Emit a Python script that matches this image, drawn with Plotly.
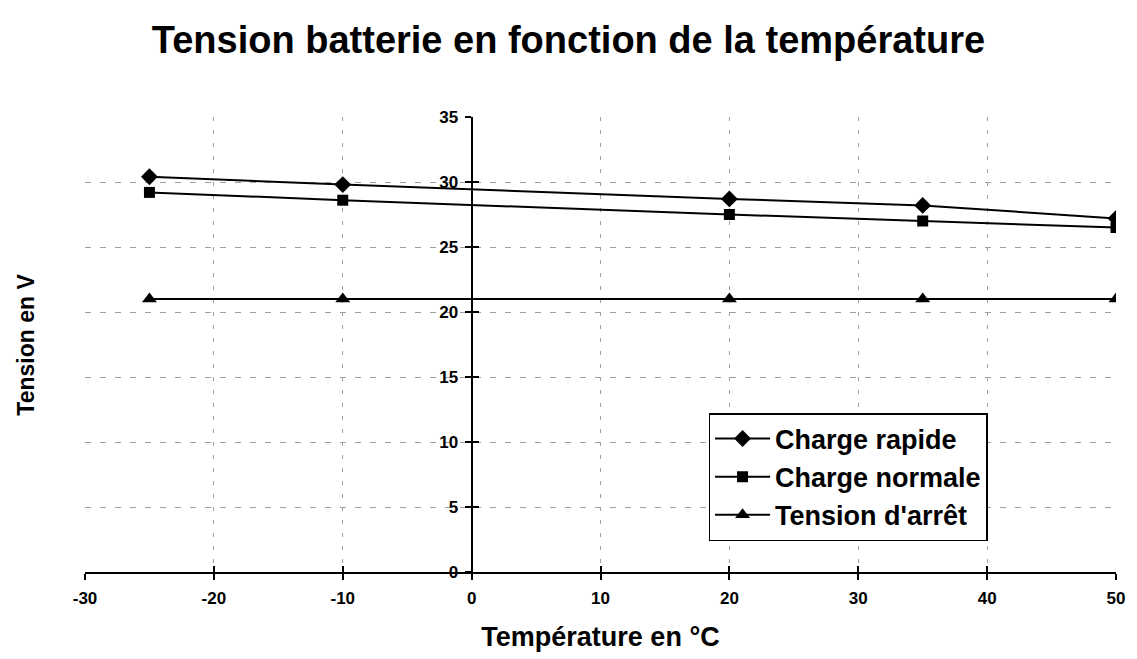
import plotly.graph_objects as go

# Battery voltage versus temperature
temperature = [-25, -10, 20, 35, 50]
charge_rapide = [30.4, 29.8, 28.7, 28.2, 27.2]
charge_normale = [29.2, 28.6, 27.5, 27.0, 26.5]
tension_arret = [21.0, 21.0, 21.0, 21.0, 21.0]

x_ticks = [-30, -20, -10, 0, 10, 20, 30, 40, 50]
y_ticks = [0, 5, 10, 15, 20, 25, 30, 35]
x_range = [-30, 50]
y_range = [0, 35]

FONT = "Liberation Sans, Arial, sans-serif"
GRID = "#a0a0a0"

series = [
    ("Charge rapide", charge_rapide, "diamond", 13),
    ("Charge normale", charge_normale, "square", 11),
    ("Tension d'arrêt", tension_arret, "triangle-up", 13),
]

fig = go.Figure()
for name, values, symbol, size in series:
    fig.add_trace(go.Scatter(
        x=temperature, y=values, name=name, mode="lines+markers",
        line=dict(color="black", width=2),
        marker=dict(symbol=symbol, size=size, color="black"),
    ))

# y axis placed where x = 0
y_pos = (0 - x_range[0]) / (x_range[1] - x_range[0])

fig.update_layout(
    width=1137, height=659,
    paper_bgcolor="white", plot_bgcolor="white",
    margin=dict(l=85, r=12, t=117, b=87),
    font=dict(family=FONT, color="black"),
    title=dict(text="<b>Tension batterie en fonction de la température</b>",
               x=0.5, xanchor="center", y=0.94, yanchor="middle",
               font=dict(size=38, family=FONT, color="black")),
    showlegend=True,
    legend=dict(x=(714 - 85) / 1040, y=(572 - 413) / 455, xanchor="left", yanchor="top",
                bgcolor="white", bordercolor="black", borderwidth=1.5,
                itemwidth=55,
                font=dict(size=27, family=FONT, color="black", weight="bold")),
    xaxis=dict(range=x_range, tickvals=x_ticks, ticktext=[str(v) for v in x_ticks],
               showgrid=True, gridcolor=GRID, griddash="4px,9px", gridwidth=1,
               zeroline=False, showline=True, linecolor="black", linewidth=2,
               ticks="outside", ticklen=6, tickcolor="black", tickwidth=1.5,
               ticklabelstandoff=4,
               tickfont=dict(size=17, family=FONT, color="black", weight="bold"),
               title=dict(text="<b>Température en °C</b>", standoff=20,
                          font=dict(size=27, family=FONT, color="black")),
               anchor="y"),
    xaxis2=dict(range=x_range, tickvals=x_ticks, overlaying="x", anchor="y",
                side="bottom", showticklabels=False, showgrid=False, zeroline=False,
                ticks="inside", ticklen=6, tickcolor="black", tickwidth=1.5),
    yaxis=dict(range=y_range, tickvals=y_ticks, ticktext=[str(v) for v in y_ticks],
               showgrid=True, gridcolor=GRID, griddash="6px,9px", gridwidth=1,
               zeroline=False, showline=True, linecolor="black", linewidth=2,
               anchor="free", position=y_pos,
               ticks="outside", ticklen=6, tickcolor="black", tickwidth=1.5,
               ticklabelstandoff=3,
               tickfont=dict(size=17, family=FONT, color="black", weight="bold")),
    yaxis2=dict(range=y_range, tickvals=y_ticks, overlaying="y", anchor="free",
                position=y_pos, showticklabels=False, showgrid=False, zeroline=False,
                ticks="inside", ticklen=6, tickcolor="black", tickwidth=1.5),
    annotations=[dict(text="<b>Tension en V</b>", xref="paper", yref="paper",
                      x=-0.058, y=0.5, xanchor="center", yanchor="middle",
                      textangle=-90, showarrow=False,
                      font=dict(size=23, family=FONT, color="black"))],
)

# invisible trace to activate the overlay axes
fig.add_trace(go.Scatter(x=[None], y=[None], xaxis="x2", yaxis="y2",
                         showlegend=False, hoverinfo="skip"))

fig.write_html("out.html")
